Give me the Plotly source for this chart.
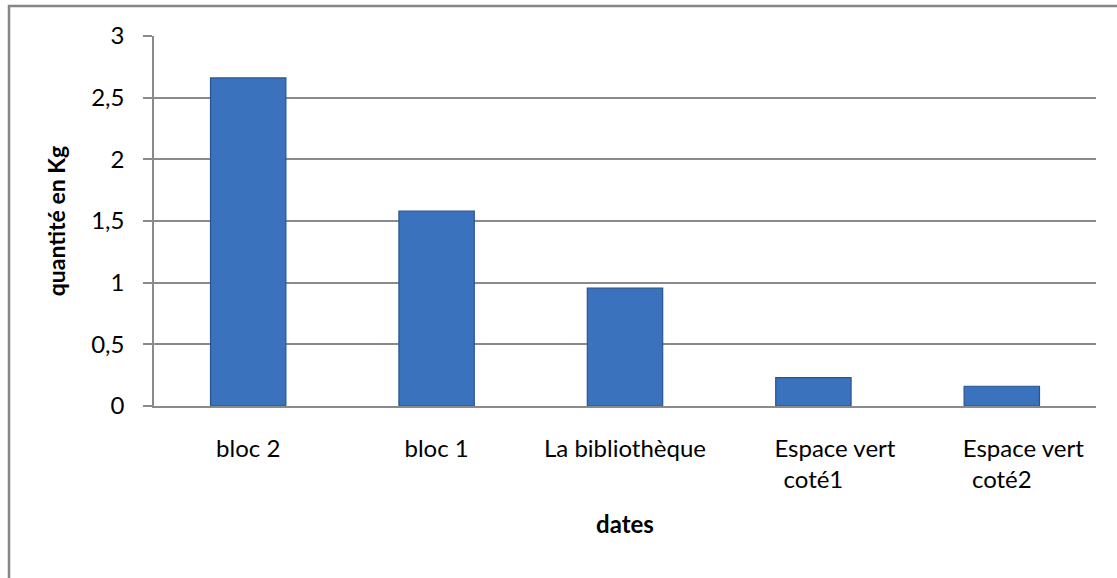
import plotly.graph_objects as go

NB = "\u00a0"
categories = ["bloc 2", "bloc 1", "La bibliothèque",
              NB * 7 + "Espace vert<br>coté1", NB * 7 + "Espace vert<br>coté2"]
values = [2.66, 1.58, 0.955, 0.23, 0.16]
y_ticks = [0, 0.5, 1, 1.5, 2, 2.5, 3]
y_tick_labels = ["0", "0,5", "1", "1,5", "2", "2,5", "3"]

FONT = "Lato, Carlito, Calibri, sans-serif"
GRID = "#8a8a8a"

fig = go.Figure()
fig.add_trace(go.Bar(
    x=categories, y=values, width=0.4,
    marker=dict(color="#3a72bd", line=dict(color="#2a5491", width=1.2)),
    showlegend=False,
))

fig.update_layout(
    width=1117, height=578,
    margin=dict(l=154, r=21, t=36, b=172),
    paper_bgcolor="white", plot_bgcolor="white",
    font=dict(family=FONT, size=24, color="black"),
    xaxis=dict(
        showline=True, linecolor=GRID, linewidth=1.5,
        ticks="", ticklabelstandoff=20, showgrid=False,
        tickfont=dict(size=24),
        title=dict(text="<b>dates</b>", font=dict(size=24), standoff=24),
    ),
    yaxis=dict(
        range=[0, 3], tickvals=y_ticks, ticktext=y_tick_labels,
        showline=True, linecolor=GRID, linewidth=1.5,
        ticks="outside", ticklen=9, tickcolor=GRID, tickwidth=1.5,
        ticklabelstandoff=14, tickfont=dict(size=24),
        showgrid=True, gridcolor=GRID, gridwidth=1.5, zeroline=False,
        title=dict(text="<b>quantité en Kg</b>", font=dict(size=23), standoff=19),
    ),
    shapes=[dict(
        type="rect", xref="paper", yref="paper",
        x0=(9 - 154) / 942, x1=1.2, y0=-0.7, y1=(406 - 6) / 370,
        line=dict(color="#868686", width=2.5), fillcolor="rgba(0,0,0,0)", layer="below",
    )],
)

fig.write_html("out.html", config={"displayModeBar": False},
               post_script="document.body.style.margin='0';")
